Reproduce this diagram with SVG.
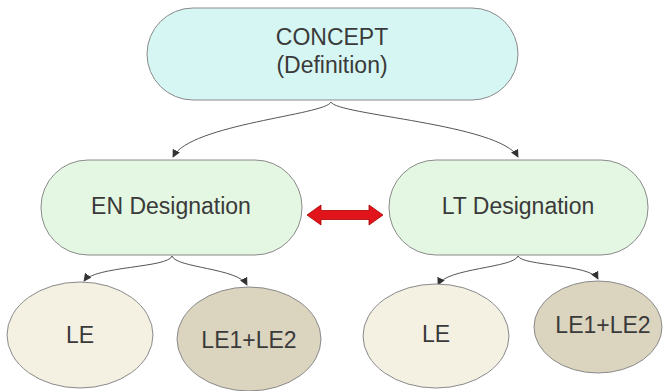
<svg xmlns="http://www.w3.org/2000/svg" width="663" height="391" viewBox="0 0 663 391">
<style>
.lbl{font-family:"Liberation Sans",Arial,sans-serif;font-size:23px;fill:#3a3a3a;text-anchor:middle}
.node{stroke:#8a8a8a;stroke-width:1}
.conn{fill:none;stroke:#555;stroke-width:1}
</style>
<defs>
<marker id="ah" viewBox="0 0 10 10" refX="9" refY="5" markerWidth="8" markerHeight="8" orient="auto" markerUnits="userSpaceOnUse">
<path d="M0,0 L10,5 L0,10 z" fill="#333"/>
</marker>
</defs>
<rect width="663" height="391" fill="#fff"/>
<g id="connectors">
<path class="conn" marker-end="url(#ah)" d="M331,102 C326,115 190,124 173,157"/>
<path class="conn" marker-end="url(#ah)" d="M331,102 C336,115 500,124 518,157"/>
<path class="conn" marker-end="url(#ah)" d="M172,256 C168,268 95,266 84,281"/>
<path class="conn" marker-end="url(#ah)" d="M172,256 C176,268 238,268 247,285"/>
<path class="conn" marker-end="url(#ah)" d="M518,256 C514,268 446,268 438,285"/>
<path class="conn" marker-end="url(#ah)" d="M518,256 C522,266 590,264 598,279"/>
<polygon points="307,215 321,205 321,210.5 369,210.5 369,205 383,215 369,225 369,219.5 321,219.5 321,225" fill="#e0141a" stroke="#a00" stroke-width="0.8"/>
</g>
<g id="concept">
<rect class="node" x="147" y="8" width="371" height="92" rx="46" fill="#d6f6f3"/>
<text class="lbl" x="332" y="45">CONCEPT</text>
<text class="lbl" x="332" y="73">(Definition)</text>
</g>
<g id="en">
<rect class="node" x="41" y="160" width="261" height="95" rx="47" fill="#e4f7e2"/>
<text class="lbl" x="171" y="214">EN Designation</text>
</g>
<g id="lt">
<rect class="node" x="389" y="160" width="259" height="95" rx="47" fill="#e4f7e2"/>
<text class="lbl" x="518" y="214">LT Designation</text>
</g>
<g id="en-le">
<ellipse class="node" cx="80" cy="335" rx="73" ry="53" fill="#f4f1e3"/>
<text class="lbl" x="80" y="343">LE</text>
</g>
<g id="en-le12">
<ellipse class="node" cx="249" cy="339" rx="72" ry="52" fill="#dbd4bf"/>
<text class="lbl" x="249" y="348">LE1+LE2</text>
</g>
<g id="lt-le">
<ellipse class="node" cx="436" cy="336" rx="73" ry="52" fill="#f4f1e3"/>
<text class="lbl" x="436" y="342">LE</text>
</g>
<g id="lt-le12">
<ellipse class="node" cx="598" cy="327" rx="64" ry="46" fill="#dbd4bf"/>
<text class="lbl" x="603" y="333">LE1+LE2</text>
</g>
</svg>
